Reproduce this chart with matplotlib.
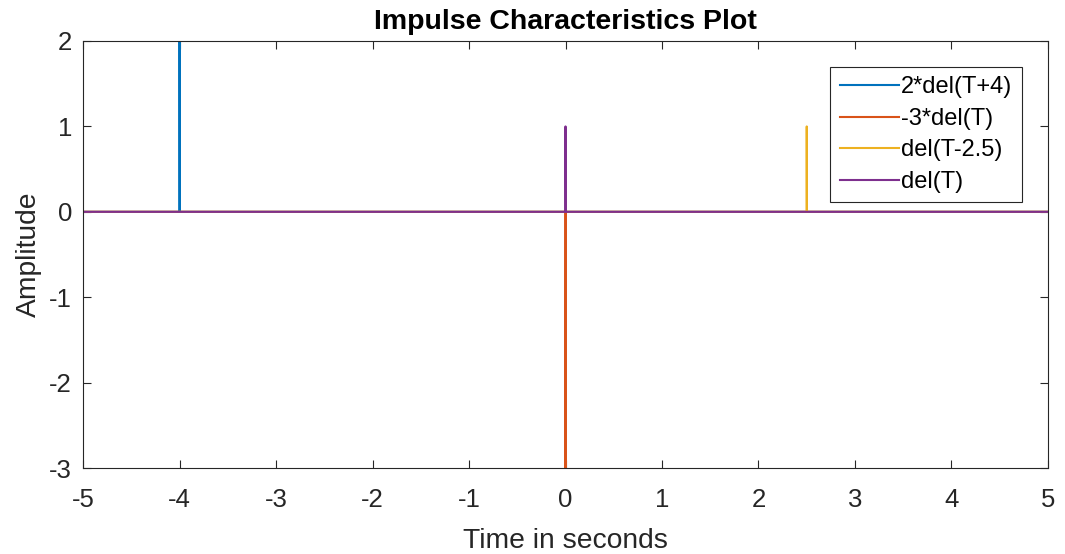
import numpy as np
import matplotlib
matplotlib.use('Agg')
import matplotlib.pyplot as plt

plt.rcParams['font.family'] = ['Liberation Sans', 'DejaVu Sans']
plt.rcParams['axes.unicode_minus'] = False

# impulse signals: label, amplitude, shift (seconds)
labels = ['2*del(T+4)', '-3*del(T)', 'del(T-2.5)', 'del(T)']
amps = [2, -3, 1, 1]
shifts = [-4, 0, 2.5, 0]
colors = ['#0072BD', '#D95319', '#EDB120', '#7E2F8E']

T = np.round(np.arange(-5, 5.00001, 0.001), 5)

fig = plt.figure(figsize=(10.65, 5.54), dpi=100)
ax = fig.add_axes([0.078, 0.155, 0.906, 0.771])

for lab, a, s, c in zip(labels, amps, shifts, colors):
    y = a * (np.isclose(T, s)).astype(float)
    ax.plot(T, y, color=c, linewidth=1.5, label=lab)

ax.set_xlim(-5, 5)
ax.set_ylim(-3, 2)
ax.set_xticks(range(-5, 6))
ax.set_yticks(range(-3, 3))
ax.tick_params(direction='in', length=6, width=0.8, top=True, right=True,
               labelsize=18.5, colors='#262626')
ax.tick_params(axis='x', pad=14)
ax.tick_params(axis='y', pad=8)
for sp in ax.spines.values():
    sp.set_color('#262626')
    sp.set_linewidth(0.8)

ax.set_title('Impulse Characteristics Plot', fontsize=20.5, fontweight='bold', pad=8.5)
ax.set_xlabel('Time in seconds', fontsize=20.3, color='#262626', labelpad=12)
ax.set_ylabel('Amplitude', fontsize=20.3, color='#262626', labelpad=5)

leg = ax.legend(loc='upper right', bbox_to_anchor=(0.973, 0.939), borderaxespad=0,
                fontsize=17, fancybox=False, edgecolor='#262626', framealpha=1,
                handlelength=2.5, handletextpad=0.1, borderpad=0.4,
                labelspacing=0.4)
leg.get_frame().set_linewidth(0.8)

fig.savefig('out.png', dpi=100)
